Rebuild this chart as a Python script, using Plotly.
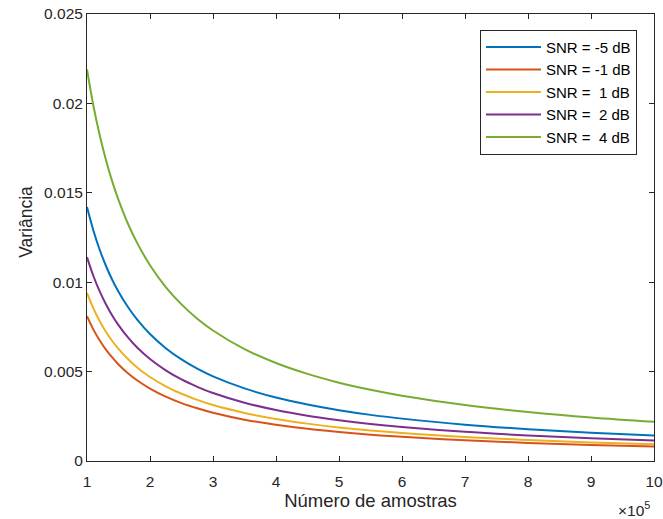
import plotly.graph_objects as go

# Number of samples (in units of 1e5)
amostras = [1, 1.1, 1.2, 1.3, 1.4, 1.5, 1.65, 1.8, 2, 2.25, 2.5, 2.75, 3, 3.5, 4, 4.5, 5, 5.5, 6, 7, 8, 9, 10]

snr_m5 = [0.0142, 0.01291, 0.01183, 0.01092, 0.01014, 0.00947, 0.00861, 0.00789, 0.0071, 0.00631, 0.00568, 0.00516,
          0.00473, 0.00406, 0.00355, 0.00316, 0.00284, 0.00258, 0.00237, 0.00203, 0.00178, 0.00158, 0.00142]
snr_m1 = [0.0081, 0.00736, 0.00675, 0.00623, 0.00579, 0.0054, 0.00491, 0.0045, 0.00405, 0.0036, 0.00324, 0.00295,
          0.0027, 0.00231, 0.00203, 0.0018, 0.00162, 0.00147, 0.00135, 0.00116, 0.00101, 0.0009, 0.00081]
snr_1 = [0.0094, 0.00855, 0.00783, 0.00723, 0.00671, 0.00627, 0.0057, 0.00522, 0.0047, 0.00418, 0.00376, 0.00342,
         0.00313, 0.00269, 0.00235, 0.00209, 0.00188, 0.00171, 0.00157, 0.00134, 0.00118, 0.00104, 0.00094]
snr_2 = [0.0114, 0.01036, 0.0095, 0.00877, 0.00814, 0.0076, 0.00691, 0.00633, 0.0057, 0.00507, 0.00456, 0.00415,
         0.0038, 0.00326, 0.00285, 0.00253, 0.00228, 0.00207, 0.0019, 0.00163, 0.00143, 0.00127, 0.00114]
snr_4 = [0.0219, 0.0199, 0.01825, 0.01685, 0.01564, 0.0146, 0.01327, 0.01217, 0.01095, 0.00973, 0.00876, 0.00796,
         0.0073, 0.00626, 0.00548, 0.00487, 0.00438, 0.00398, 0.00365, 0.00313, 0.00274, 0.00243, 0.00219]

series = [
    ("SNR = -5 dB", snr_m5, "#0072BD"),
    ("SNR = -1 dB", snr_m1, "#D95319"),
    ("SNR =\u00a0\u00a01 dB", snr_1, "#EDB120"),
    ("SNR =\u00a0\u00a02 dB", snr_2, "#7E2F8E"),
    ("SNR =\u00a0\u00a04 dB", snr_4, "#77AC30"),
]

x_ticks = [1, 2, 3, 4, 5, 6, 7, 8, 9, 10]
y_ticks = [0, 0.005, 0.01, 0.015, 0.02, 0.025]
y_tick_labels = ["0", "0.005", "0.01", "0.015", "0.02", "0.025"]

fig = go.Figure()
for name, vals, color in series:
    fig.add_trace(go.Scatter(x=amostras, y=vals, mode="lines", name=name,
                             line=dict(color=color, width=2, shape="spline", smoothing=1.0)))

axis_color = "#262626"
ff = "Liberation Sans, Arial, sans-serif"

fig.update_layout(
    width=663, height=519,
    margin=dict(l=87, r=9, t=14, b=58),
    paper_bgcolor="white", plot_bgcolor="white",
    font=dict(family=ff, size=15.5, color=axis_color),
    showlegend=True,
    legend=dict(x=0.97, y=0.965, xanchor="right", yanchor="top",
                bgcolor="white", bordercolor=axis_color, borderwidth=1,
                font=dict(family=ff, size=15, color="#000000"),
                itemwidth=55),
    xaxis=dict(range=[1, 10], tickvals=x_ticks, ticktext=[str(v) for v in x_ticks],
               ticks="inside", ticklen=5, tickcolor=axis_color, showline=True, linecolor=axis_color,
               linewidth=1, mirror="ticks", showgrid=False, zeroline=False,
               ticklabelstandoff=6, automargin=False,
               title=dict(text="Número de amostras", font=dict(size=18.5), standoff=4)),
    yaxis=dict(range=[0, 0.025], tickvals=y_ticks, ticktext=y_tick_labels,
               ticks="inside", ticklen=5, tickcolor=axis_color, showline=True, linecolor=axis_color,
               linewidth=1, mirror="ticks", showgrid=False, zeroline=False, automargin=False),
    annotations=[
        dict(text="×10<sup>5</sup>", xref="paper", yref="paper", x=0.997, y=-0.108,
             xanchor="right", yanchor="middle", showarrow=False,
             font=dict(size=15.5, color=axis_color)),
        dict(text="Variância", xref="paper", yref="paper", x=-0.1076, y=0.535,
             xanchor="center", yanchor="middle", textangle=-90, showarrow=False,
             font=dict(size=17.5, color=axis_color)),
    ],
)

fig.write_html("out.html")
